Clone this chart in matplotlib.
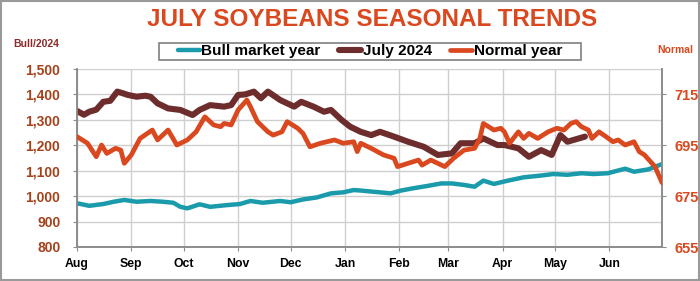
import matplotlib
matplotlib.use('Agg')
import matplotlib.pyplot as plt
from matplotlib.patches import Rectangle

plt.rcParams['font.family'] = ['Liberation Sans', 'DejaVu Sans']
plt.rcParams['font.weight'] = 'bold'

# ---- data (x = days since Aug 1) ----
month_labels = ["Aug", "Sep", "Oct", "Nov", "Dec", "Jan", "Feb", "Mar", "Apr", "May", "Jun"]
month_days = [0, 31, 61, 92, 122, 153, 184, 212, 243, 273, 304]

july2024_days = [0, 4, 7, 11, 15, 19, 23, 26, 29, 34, 39, 42, 46, 52, 59, 66, 70, 76, 84, 88,
                 92, 96, 101, 105, 109, 116, 124, 128, 135, 141, 145, 151, 156, 162, 168, 173,
                 181, 189, 198, 206, 214, 219, 227, 232, 240, 244, 252, 258, 265, 271, 276, 280, 290]
july2024 = [1335, 1320, 1332, 1340, 1371, 1375, 1411, 1405, 1398, 1391, 1395, 1391, 1365, 1345,
            1339, 1319, 1339, 1358, 1352, 1358, 1398, 1400, 1411, 1385, 1411, 1378, 1352, 1371,
            1352, 1332, 1339, 1300, 1273, 1253, 1240, 1253, 1234, 1214, 1194, 1162, 1168, 1208,
            1208, 1227, 1201, 1201, 1188, 1155, 1181, 1162, 1240, 1214, 1234]

bull_days = [0, 7, 15, 21, 27, 34, 42, 49, 55, 59, 63, 70, 76, 86, 93, 99, 106, 116, 122, 129,
             137, 145, 152, 158, 162, 168, 173, 179, 185, 192, 200, 208, 214, 221, 227, 232,
             238, 246, 255, 265, 272, 280, 288, 295, 303, 313, 318, 326, 334]
bull = [972, 962, 969, 978, 985, 978, 981, 978, 974, 958, 952, 968, 958, 965, 969, 981, 974,
        981, 976, 987, 995, 1011, 1015, 1024, 1022, 1018, 1015, 1011, 1022, 1031, 1040, 1050,
        1050, 1044, 1037, 1061, 1048, 1061, 1074, 1081, 1087, 1084, 1090, 1087, 1090, 1108,
        1096, 1105, 1126]

normal_days = [0, 6, 11, 14, 17, 22, 25, 27, 31, 36, 43, 46, 52, 57, 63, 68, 73, 78, 82, 84,
               88, 92, 97, 99, 103, 109, 112, 117, 120, 126, 129, 133, 139, 147, 152, 158, 160,
               162, 168, 175, 181, 183, 189, 195, 197, 202, 210, 215, 221, 227, 230, 232, 238,
               242, 244, 247, 252, 255, 258, 263, 269, 274, 278, 282, 285, 288, 292, 294, 298,
               302, 306, 309, 313, 318, 321, 324, 330, 334]
normal = [698.4, 695.8, 690.5, 695.1, 691.8, 693.8, 693.1, 687.9, 691.2, 697.7, 701.0, 697.1,
          701.0, 695.1, 697.1, 700.3, 706.2, 703.0, 702.3, 703.6, 703.0, 708.9, 712.8, 710.2,
          704.3, 700.3, 699.0, 700.3, 704.3, 701.7, 699.7, 694.4, 695.8, 697.1, 695.8, 696.4,
          692.5, 695.8, 693.8, 691.2, 689.9, 686.6, 687.9, 689.2, 687.2, 689.2, 686.6, 689.9,
          693.1, 693.8, 697.7, 703.6, 701.0, 701.7, 700.3, 695.8, 700.3, 697.7, 699.7, 697.7,
          700.3, 701.7, 701.0, 703.6, 704.3, 702.3, 701.0, 697.7, 700.3, 698.4, 696.4, 697.1,
          695.1, 696.4, 692.5, 691.2, 686.6, 680.3]

left_ticks = [800, 900, 1000, 1100, 1200, 1300, 1400, 1500]
right_ticks = [655, 675, 695, 715]

TEAL = '#1a9bab'
BROWN = '#6e2d2d'
ORANGE = '#d9481e'
LEFTLAB = '#a5411b'
GRID = '#cfcfcf'
SPINE = '#8c8c8c'

W, H = 700, 281
fig = plt.figure(figsize=(7, 2.81), dpi=100)
ax = fig.add_axes([77 / W, 1 - 247 / H, (662 - 77) / W, (247 - 69) / H])

# ---- lines ----
l1, = ax.plot(bull_days, bull, color=TEAL, lw=3.2, solid_capstyle='round', solid_joinstyle='round',
              label='Bull market year', zorder=3)
l2, = ax.plot(july2024_days, july2024, color=BROWN, lw=4.4, solid_capstyle='round',
              solid_joinstyle='round', label='July 2024', zorder=3)
ax.set_xlim(0, 334)
ax.set_ylim(800, 1500)
ax.set_yticks(left_ticks)
ax.set_yticklabels([f"{v:,}" for v in left_ticks])
ax.set_xticks(month_days)
ax.set_xticklabels(month_labels)
ax.grid(True, color=GRID, lw=1)
ax.set_axisbelow(True)

ax2 = ax.twinx()
l3, = ax2.plot(normal_days, normal, color=ORANGE, lw=3.4, solid_capstyle='round',
               solid_joinstyle='round', label='Normal year', zorder=3)
ax2.set_ylim(655, 725)
ax2.set_yticks(right_ticks)

# ---- styling ----
for a in (ax, ax2):
    a.spines['top'].set_visible(False)
    for s in ('left', 'bottom', 'right'):
        a.spines[s].set_color(SPINE)
        a.spines[s].set_linewidth(1.2)
ax.tick_params(axis='y', length=3, color=SPINE, pad=9, labelsize=10, labelcolor=LEFTLAB)
ax.tick_params(axis='x', length=3, color=SPINE, pad=5, labelsize=8.8, labelcolor='black')
ax2.tick_params(axis='y', length=3, color=SPINE, pad=6, labelsize=10.5, labelcolor=ORANGE)

# ---- text ----
fig.text(372 / W, 1 - 20 / H, 'JULY SOYBEANS SEASONAL TRENDS', ha='center', va='center',
         fontsize=17.5, fontweight='bold', color=ORANGE)
fig.text(13 / W, 1 - 44 / H, 'Bull/2024', ha='left', va='center', fontsize=7.5,
         fontweight='bold', color='#8b2a2a')
fig.text(657 / W, 1 - 50 / H, 'Normal', ha='left', va='center', fontsize=7.5,
         fontweight='bold', color=ORANGE)

fig.patches.append(Rectangle((159 / W, 1 - 60 / H), (581 - 159) / W, 17 / H,
                             transform=fig.transFigure, fill=True, facecolor='white',
                             edgecolor='#7f7f7f', lw=1.2))
leg = fig.legend(handles=[l1, l2, l3], loc='center', bbox_to_anchor=(370 / W, 1 - 51.5 / H),
                 ncol=3, frameon=False, fontsize=11, handlelength=1.45, handletextpad=0.1,
                 columnspacing=1.2, borderpad=0.1)
for t in leg.get_texts():
    t.set_fontweight('bold')

fig.patches.append(Rectangle((0.001, 0.002), 0.997, 0.995, transform=fig.transFigure,
                             fill=False, edgecolor='#9a9a9a', lw=1.5))

fig.savefig('out.png', dpi=100)
